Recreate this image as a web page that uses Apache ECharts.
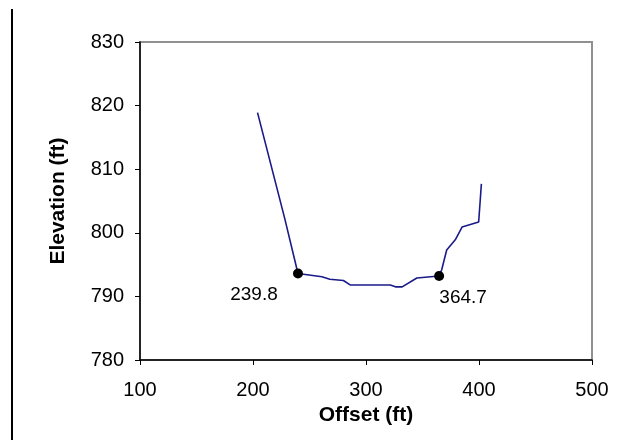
<!DOCTYPE html>
<html>
<head>
<meta charset="utf-8">
<script src="https://cdn.jsdelivr.net/npm/echarts@6/dist/echarts.min.js"></script>
<style>
  html, body { margin: 0; padding: 0; background: #fff; }
  #chart { width: 631px; height: 440px; }
</style>
</head>
<body>
<div id="chart"></div>
<script>
// cross section ground profile
var offsets = [204, 228, 239.8, 261, 268, 280, 286, 321.5, 326, 332, 345, 364.7, 367, 371.4, 379, 385, 399.7, 401.2, 402.1];
var elevations = [818.9, 802.3, 793.6, 793.1, 792.7, 792.5, 791.8, 791.8, 791.5, 791.5, 792.9, 793.2, 794.2, 797.3, 798.9, 800.9, 801.7, 805.4, 807.7];

// bank stations
var bankOffsets = [239.8, 364.7];
var bankElevations = [793.6, 793.2];
var bankLabelShift = [-44, 24];

var xTicks = { min: 100, max: 500, interval: 100 };
var yTicks = { min: 780, max: 830, interval: 10 };

var font = 'Liberation Sans, Arial, sans-serif';

var profile = offsets.map(function (x, i) { return [x, elevations[i]]; });
var banks = bankOffsets.map(function (x, i) {
    return {
        value: [x, bankElevations[i]],
        label: { offset: [bankLabelShift[i], 0] }
    };
});

var myChart = echarts.init(document.getElementById('chart'));
myChart.setOption({
    animation: false,
    grid: {
        left: 140, right: 39, top: 42, bottom: 80,
        show: true,
        borderColor: '#909090',
        borderWidth: 2
    },
    xAxis: {
        type: 'value',
        min: xTicks.min, max: xTicks.max, interval: xTicks.interval,
        name: 'Offset (ft)',
        nameLocation: 'middle',
        nameGap: 35,
        nameTextStyle: { fontFamily: font, fontSize: 21, fontWeight: 'bold', color: '#000' },
        axisLine: { lineStyle: { color: '#000', width: 1.5 } },
        axisTick: { length: 5, lineStyle: { color: '#000' } },
        axisLabel: { margin: 20, fontFamily: font, fontSize: 20, color: '#000' },
        splitLine: { show: false }
    },
    yAxis: {
        type: 'value',
        min: yTicks.min, max: yTicks.max, interval: yTicks.interval,
        name: 'Elevation (ft)',
        nameLocation: 'middle',
        nameGap: 71,
        nameTextStyle: { fontFamily: font, fontSize: 21, fontWeight: 'bold', color: '#000' },
        axisLine: { show: true, lineStyle: { color: '#000', width: 1.5 } },
        axisTick: { show: true, length: 5, lineStyle: { color: '#000' } },
        axisLabel: { margin: 16, fontFamily: font, fontSize: 20, color: '#000' },
        splitLine: { show: false }
    },
    graphic: [{
        type: 'line',
        shape: { x1: 12, y1: 9, x2: 12, y2: 440 },
        style: { stroke: '#000', lineWidth: 2 }
    }],
    series: [{
        name: 'Ground',
        type: 'line',
        data: profile,
        showSymbol: false,
        lineStyle: { color: '#1a1a8a', width: 1.6 },
        z: 2
    }, {
        name: 'Banks',
        type: 'scatter',
        data: banks,
        symbolSize: 10,
        itemStyle: { color: '#000', opacity: 1 },
        label: {
            show: true,
            position: 'bottom',
            distance: 7,
            formatter: function (p) { return p.value[0].toFixed(1); },
            fontFamily: font,
            fontSize: 19,
            color: '#000'
        },
        z: 3
    }]
});
</script>
</body>
</html>
